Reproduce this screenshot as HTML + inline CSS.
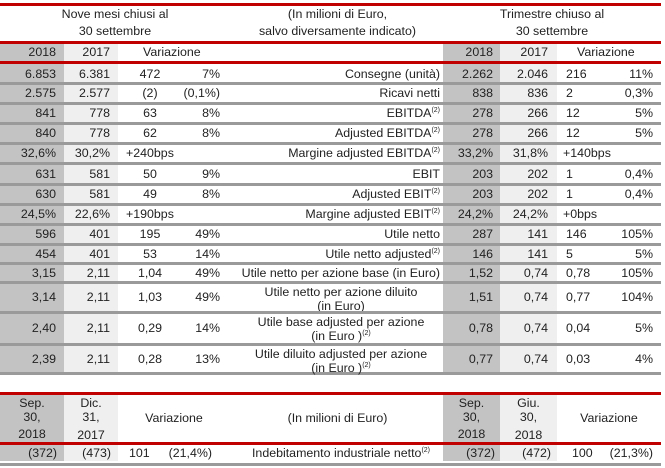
<!DOCTYPE html>
<html><head><meta charset="utf-8"><style>
body{margin:0;width:665px;height:468px;background:#fff;position:relative;overflow:hidden;font-family:"Liberation Sans",sans-serif;font-size:12.4px;color:#222}
div{position:absolute;box-sizing:border-box}
.dk{background:#c3c3c3}.lt{background:#efefef}
.red{background:#c00000;height:3px;left:0;width:661px}
.gr{background:#9a9a9a;height:3px;left:0;width:661px}
.c{white-space:nowrap}
sup{font-size:7px;vertical-align:5px;line-height:0}
</style></head><body>
<div class="dk" style="left:0;top:43px;width:64px;height:329px"></div>
<div class="lt" style="left:64px;top:43px;width:54px;height:329px"></div>
<div class="dk" style="left:443px;top:43px;width:57px;height:329px"></div>
<div class="lt" style="left:500px;top:43px;width:57px;height:329px"></div>
<div class="red" style="top:3px"></div>
<div class="c" style="left:0;width:230px;top:6px;text-align:center;line-height:17px">Nove mesi chiusi al<br>30 settembre</div>
<div class="c" style="left:230px;width:215px;top:6px;text-align:center;line-height:17px">(In milioni di Euro,<br>salvo diversamente indicato)</div>
<div class="c" style="left:443px;width:218px;top:6px;text-align:center;line-height:17px">Trimestre chiuso al<br>30 settembre</div>
<div class="red" style="top:41px"></div>
<div class="c" style="left:0;width:56px;top:44px;text-align:right;line-height:17px">2018</div>
<div class="c" style="left:64px;width:46px;top:44px;text-align:right;line-height:17px">2017</div>
<div class="c" style="left:143px;top:44px;line-height:17px">Variazione</div>
<div class="c" style="left:443px;width:50px;top:44px;text-align:right;line-height:17px">2018</div>
<div class="c" style="left:500px;width:48px;top:44px;text-align:right;line-height:17px">2017</div>
<div class="c" style="left:577px;top:44px;line-height:17px">Variazione</div>
<div class="red" style="top:61px"></div>
<div class="gr" style="top:372px"></div>

<div class="red" style="top:392px"></div>
<div class="dk" style="left:0;top:395px;width:64px;height:66px"></div>
<div class="lt" style="left:64px;top:395px;width:54px;height:66px"></div>
<div class="dk" style="left:443px;top:395px;width:57px;height:66px"></div>
<div class="lt" style="left:500px;top:395px;width:57px;height:66px"></div>
<div class="c" style="left:0;width:64px;top:396px;text-align:center;line-height:14px">Sep.<br>30,<br><span style="line-height:20px">2018</span></div>
<div class="c" style="left:64px;width:54px;top:396px;text-align:center;line-height:14px">Dic.<br>31,<br><span style="line-height:22px">2017</span></div>
<div class="c" style="left:118px;width:112px;top:411px;text-align:center">Variazione</div>
<div class="c" style="left:230px;width:215px;top:411px;text-align:center">(In milioni di Euro)</div>
<div class="c" style="left:443px;width:57px;top:396px;text-align:center;line-height:14px">Sep.<br>30,<br><span style="line-height:20px">2018</span></div>
<div class="c" style="left:500px;width:57px;top:396px;text-align:center;line-height:14px">Giu.<br>30,<br><span style="line-height:22px">2018</span></div>
<div class="c" style="left:557px;width:104px;top:411px;text-align:center">Variazione</div>
<div class="red" style="top:442px"></div>
<div class="c" style="left:0;width:57px;top:446px;text-align:right">(372)</div>
<div class="c" style="left:64px;width:47px;top:446px;text-align:right">(473)</div>
<div class="c" style="left:129px;top:446px">101</div>
<div class="c" style="left:150px;width:62px;top:446px;text-align:right">(21,4%)</div>
<div class="c" style="left:230px;width:200px;top:446px;text-align:right">Indebitamento industriale netto<sup>(2)</sup></div>
<div class="c" style="left:443px;width:52px;top:446px;text-align:right">(372)</div>
<div class="c" style="left:500px;width:51px;top:446px;text-align:right">(472)</div>
<div class="c" style="left:572px;top:446px">100</div>
<div class="c" style="left:590px;width:63px;top:446px;text-align:right">(21,3%)</div>
<div class="gr" style="top:463px"></div>

<div id="d"></div>
<script>
var R=[
[63,82,"6.853","6.381","472","7%","Consegne (unità)","2.262","2.046","216","11%",0],
[82,102,"2.575","2.577","(2)","(0,1%)","Ricavi netti","838","836","2","0,3%",0],
[102,122,"841","778","63","8%","EBITDA<sup>(2)</sup>","278","266","12","5%",0],
[122,142,"840","778","62","8%","Adjusted EBITDA<sup>(2)</sup>","278","266","12","5%",0],
[142,162,"32,6%","30,2%","+240bps","","Margine adjusted EBITDA<sup>(2)</sup>","33,2%","31,8%","+140bps","",0],
[162,183,"631","581","50","9%","EBIT","203","202","1","0,4%",0],
[183,203,"630","581","49","8%","Adjusted EBIT<sup>(2)</sup>","203","202","1","0,4%",0],
[203,223,"24,5%","22,6%","+190bps","","Margine adjusted EBIT<sup>(2)</sup>","24,2%","24,2%","+0bps","",0],
[223,243,"596","401","195","49%","Utile netto","287","141","146","105%",0],
[243,262,"454","401","53","14%","Utile netto adjusted<sup>(2)</sup>","146","141","5","5%",0],
[262,281,"3,15","2,11","1,04","49%","Utile netto per azione base (in Euro)","1,52","0,74","0,78","105%",0],
[281,311,"3,14","2,11","1,03","49%","Utile netto per azione diluito<br>(in Euro)","1,51","0,74","0,77","104%",1],
[311,343,"2,40","2,11","0,29","14%","Utile base adjusted per azione<br>(in Euro )<sup>(2)</sup>","0,78","0,74","0,04","5%",1],
[343,373,"2,39","2,11","0,28","13%","Utile diluito adjusted per azione<br>(in Euro )<sup>(2)</sup>","0,77","0,74","0,03","4%",1]
];
var h="";
R.forEach(function(r,i){
 var t=r[0]+3,H=r[1]-r[0]-3,lh="line-height:"+H+"px;";
 var s="top:"+t+"px;"+lh;
 h+='<div class="c" style="left:0;width:56px;text-align:right;'+s+'">'+r[2]+'</div>';
 h+='<div class="c" style="left:64px;width:46px;text-align:right;'+s+'">'+r[3]+'</div>';
 if(r[5]==="") h+='<div class="c" style="left:126px;'+s+'">'+r[4]+'</div>';
 else h+='<div class="c" style="left:118px;width:64px;text-align:center;'+s+'">'+r[4]+'</div>';
 h+='<div class="c" style="left:160px;width:60px;text-align:right;'+s+'">'+r[5]+'</div>';
 if(r[11]) h+='<div class="c" style="left:236px;width:210px;text-align:center;line-height:14px;top:'+(t+1)+'px">'+r[6]+'</div>';
 else h+='<div class="c" style="left:230px;width:210px;text-align:right;'+s+'">'+r[6]+'</div>';
 h+='<div class="c" style="left:443px;width:50px;text-align:right;'+s+'">'+r[7]+'</div>';
 h+='<div class="c" style="left:500px;width:48px;text-align:right;'+s+'">'+r[8]+'</div>';
 if(r[10]==="") h+='<div class="c" style="left:563px;'+s+'">'+r[9]+'</div>';
 else h+='<div class="c" style="left:566px;'+s+'">'+r[9]+'</div>';
 h+='<div class="c" style="left:600px;width:53px;text-align:right;'+s+'">'+r[10]+'</div>';
 if(i<R.length-1) h+='<div class="gr" style="top:'+r[1]+'px"></div>';
});
document.getElementById("d").outerHTML=h;
</script>
</body></html>
